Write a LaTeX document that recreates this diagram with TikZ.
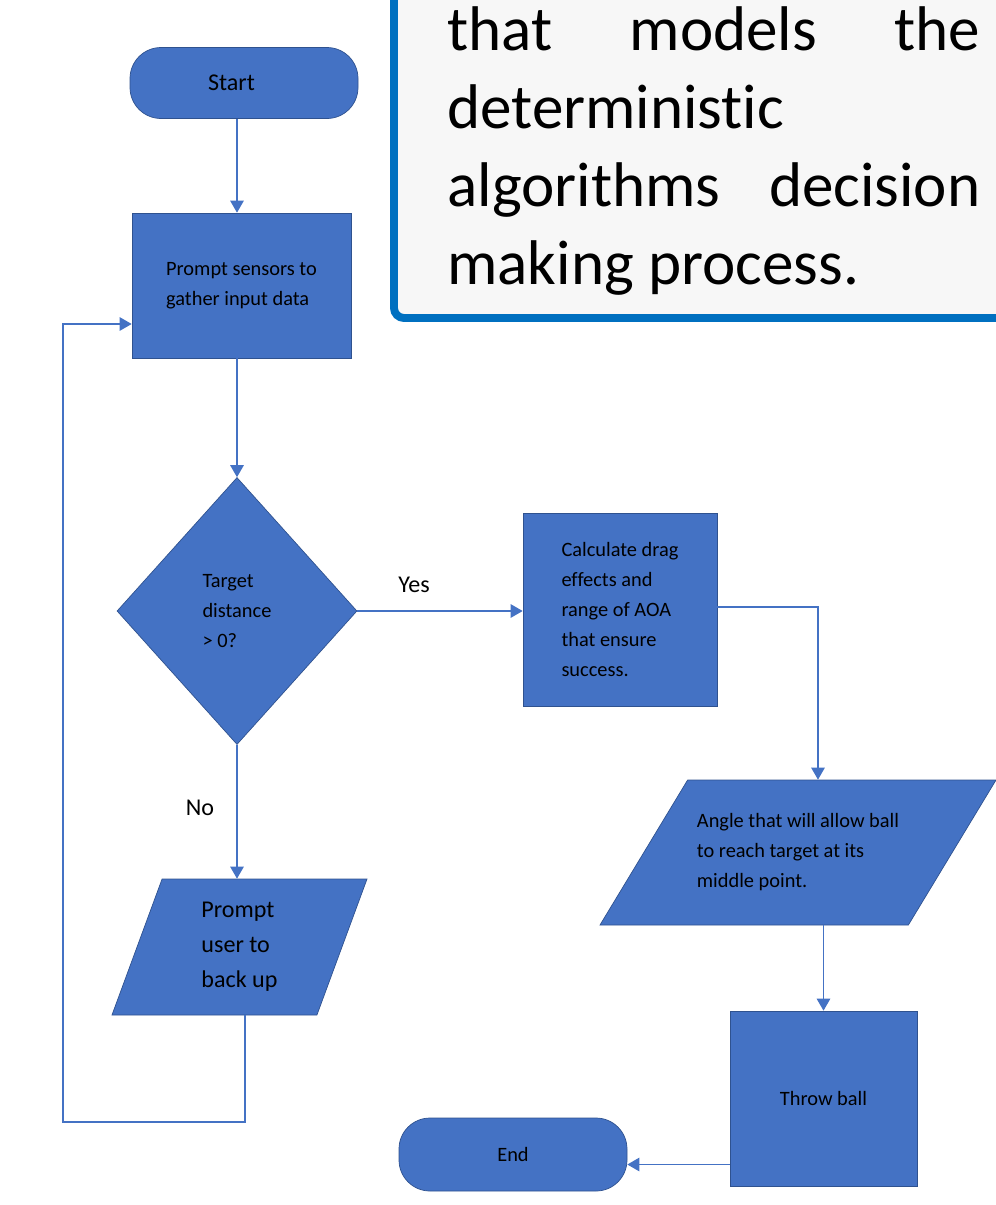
\documentclass[tikz,border=0pt]{standalone}
\usepackage{fontspec}
\setmainfont{Carlito}[Ligatures=NoCommon]
\usetikzlibrary{positioning}
\usetikzlibrary{arrows}
\usetikzlibrary{shapes.geometric}
\definecolor{boxblue}{HTML}{4472C4}
\definecolor{edgeblue}{HTML}{2F528F}
\definecolor{frameblue}{HTML}{0070C0}
\definecolor{notegray}{HTML}{F7F7F7}
\tikzstyle{every block} = [fill=boxblue, draw=edgeblue, line width=0.4pt, text=black, inner sep=0pt, align=left, font=\fontsize{11.6}{17.1}\selectfont]
\tikzstyle{terminal} = [rectangle, rounded corners=0.62cm, minimum width=4.56cm, minimum height=1.42cm, every block]
\tikzstyle{process} = [rectangle, every block]
\tikzstyle{decision} = [diamond, every block]
\tikzstyle{inout} = [trapezium, trapezium stretches body, every block]
\tikzstyle{link} = [>=triangle 60, draw=boxblue, line width=0.85pt]

\begin{document}
\begin{tikzpicture}
        \tikzstyle{every label text} = [font=\fontsize{13.7}{16}\selectfont]
        \tikzstyle{note line} = [anchor=base west, inner sep=0pt, font=\fontsize{35.9}{44.4}\selectfont]

        \useasboundingbox (0,0) rectangle (19.92,-24.1);
        \begin{scope}
            \clip (0,0) rectangle (19.92,-24.1);
            \draw[draw=frameblue, fill=notegray, line width=4.5pt, rounded corners=0.2cm] (7.88,0.5) rectangle (20.5,-6.36);
        \end{scope}
        \node[note line] (noteA) at (8.94,-1.0) {\makebox[10.66cm][s]{that models the}};
        \node[note line] (noteB) at (8.94,-2.56) {deterministic};
        \node[note line] (noteC) at (8.94,-4.12) {\makebox[10.66cm][s]{algorithms decision}};
        \node[note line] (noteD) at (8.94,-5.68) {making process.};

        \node[terminal, font=\fontsize{13.7}{16}\selectfont] (start) at (4.88,-1.66) {\hspace*{-0.5cm}Start};
        \node[process, minimum width=4.38cm, minimum height=2.9cm] (sensors) at (4.83,-5.71) {Prompt sensors to\\gather input data};
        \node[decision, minimum width=4.8cm, minimum height=5.34cm] (target) at (4.74,-12.22) {Target\\distance\\> 0?};
        \node[process, minimum width=3.88cm, minimum height=3.86cm] (drag) at (12.4,-12.19) {Calculate drag\\effects and\\range of AOA\\that ensure\\success.};
        \node[inout, trapezium left angle=41.5, trapezium right angle=138.5, minimum width=7.92cm, minimum height=2.9cm] (aim) at (15.96,-17.05) {Angle that will allow ball\\to reach target at its\\middle point.};
        \node[process, minimum width=3.74cm, minimum height=3.5cm] (throw) at (16.47,-21.97) {Throw ball};
        \node[terminal, minimum height=1.46cm] (stop) at (10.26,-23.09) {End};
        \node[inout, trapezium left angle=60.7, trapezium right angle=119.3, minimum width=5.1cm, minimum height=2.72cm, font=\fontsize{13.7}{19.9}\selectfont] (backup) at (4.79,-18.94) {Prompt\\user to\\back up};

        \node[every label text] (yes) at (8.28,-11.7) {Yes};
        \node[every label text] (no) at (4.0,-16.16) {No};

        \coordinate (bend) at (16.36,-12.14);
        \coordinate (loopright) at (4.9,-22.44);
        \coordinate (loopleft) at (1.26,-22.44);
        \coordinate (looptop) at (1.26,-6.48);

        \draw[link,->] ([xshift=-0.14cm]start.south) -- ([xshift=-0.14cm]start.south |- sensors.north);
        \draw[link,->] (sensors.south -| target.north) -- (target.north);
        \draw[link,->] (target.east) -- (target.east -| drag.west);
        \draw[link,->] (drag.east |- bend) -- (bend) -- (bend |- aim.north);
        \draw[link,->] (aim.south -| throw.north) -- (throw.north);
        \draw[link,->] ([yshift=-0.2cm]throw.west |- stop.east) -- ([yshift=-0.2cm]stop.east);
        \draw[link,->] (target.south) -- (target.south |- backup.north);
        \draw[link,->] (backup.south -| loopright) -- (loopright) -- (loopleft) -- (looptop) -- (looptop -| sensors.west);
\end{tikzpicture}
\end{document}
